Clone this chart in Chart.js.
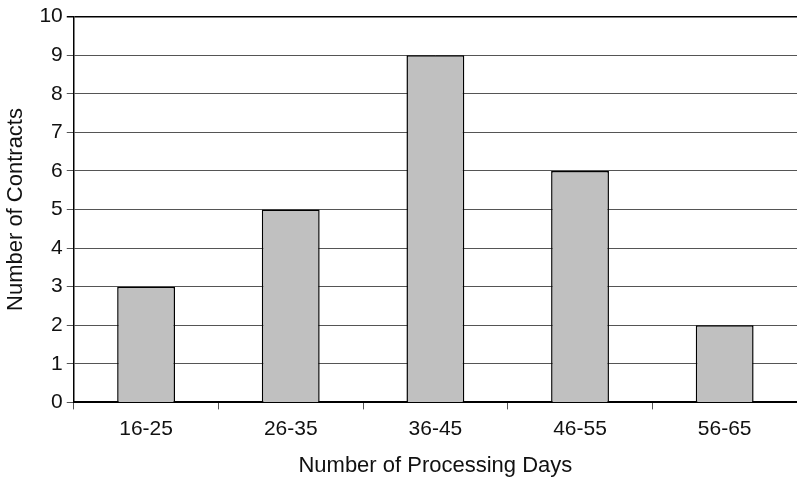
<!DOCTYPE html>
<html>
<head>
<meta charset="utf-8">
<script src="https://cdn.jsdelivr.net/npm/chart.js@4.4.1/dist/chart.umd.min.js"></script>
<style>
  html, body { margin: 0; padding: 0; background: #fff; }
  #wrap { width: 797px; height: 479px; }
</style>
</head>
<body>
<div id="wrap"><canvas id="chart"></canvas></div>
<script>
const dayRanges = ["16-25", "26-35", "36-45", "46-55", "56-65"];
const contractCounts = [3, 5, 9, 6, 2];
const yTicks = [0, 1, 2, 3, 4, 5, 6, 7, 8, 9, 10];

const fontFam = "Liberation Sans, Arial, sans-serif";
const ctx = document.getElementById("chart").getContext("2d");

new Chart(ctx, {
  type: "bar",
  data: {
    labels: dayRanges,
    datasets: [
      {
        label: "Contracts",
        data: contractCounts,
        backgroundColor: "#c0c0c0",
        borderColor: "#000",
        borderWidth: 1.5,
        categoryPercentage: 0.4,
        barPercentage: 1.0,
      },
    ],
  },
  options: {
    responsive: true,
    maintainAspectRatio: false,
    animation: false,
    layout: { padding: { top: 0, right: 0, left: 3, bottom: 0 } },
    plugins: {
      legend: { display: false },
      tooltip: { enabled: false },
    },
    scales: {
      x: {
        grid: {
          offset: true,
          drawOnChartArea: false,
          drawTicks: true,
          tickLength: 7,
          color: "#555",
        },
        border: { color: "#000", width: 2 },
        ticks: {
          color: "#111",
          font: { family: fontFam, size: 21 },
          padding: 7,
        },
        title: {
          display: true,
          text: "Number of Processing Days",
          color: "#111",
          font: { family: fontFam, size: 22 },
          padding: { top: 4, bottom: 0 },
        },
      },
      y: {
        min: 0,
        max: 10,
        afterBuildTicks: (axis) => {
          axis.ticks = yTicks.map((v) => ({ value: v }));
        },
        grid: {
          color: (c) => (c.tick && c.tick.value === 10 ? "#000" : "#555"),
          lineWidth: (c) => (c.tick && c.tick.value === 10 ? 1.5 : 1),
          tickLength: 7,
        },
        border: { color: "#000", width: 1.5 },
        ticks: {
          color: "#111",
          font: { family: fontFam, size: 21 },
          padding: 4,
        },
        title: {
          display: true,
          text: "Number of Contracts",
          color: "#111",
          font: { family: fontFam, size: 22 },
          padding: { top: 0, bottom: 6 },
        },
      },
    },
  },
});
</script>
</body>
</html>
